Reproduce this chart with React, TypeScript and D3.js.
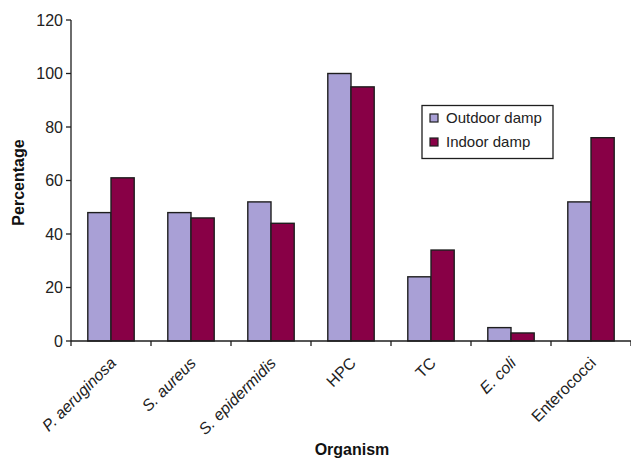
import React from "react";
import * as d3 from "d3";

const W = 631;
const H = 458;

const organisms = ["P. aeruginosa", "S. aureus", "S. epidermidis", "HPC", "TC", "E. coli", "Enterococci"];
const italicNames = ["P. aeruginosa", "S. aureus", "S. epidermidis", "E. coli"];
const outdoorDamp = [48, 48, 52, 100, 24, 5, 52];
const indoorDamp = [61, 46, 44, 95, 34, 3, 76];
const seriesNames = ["Outdoor damp", "Indoor damp"];
const seriesColors = ["#a9a0d6", "#880046"];
const yTicks = [0, 20, 40, 60, 80, 100, 120];

const FONT = "Liberation Sans, Arial, Helvetica, sans-serif";

const App = () => {
  const left = 71;
  const right = 631;
  const top = 20;
  const bottom = 341;

  const x = d3.scaleBand().domain(organisms).range([left, right]).paddingInner(0).paddingOuter(0);
  const gap = x.bandwidth() * 0.21;
  const inner = d3.scaleBand().domain(seriesNames).range([gap, x.bandwidth() - gap]).padding(0);
  const y = d3.scaleLinear().domain([0, 120]).range([bottom, top]);

  const series = [outdoorDamp, indoorDamp];
  const boundaries = organisms.map((o) => x(o) as number).concat([right]);

  return (
    <svg width={W} height={H} style={{ position: "absolute", left: 0, top: 0 }} fontFamily={FONT}>
      <rect x={0} y={0} width={W} height={H} fill="#fff" />
      {/* bars */}
      {organisms.map((o, i) =>
        series.map((s, k) => (
          <rect
            key={o + k}
            x={(x(o) as number) + (inner(seriesNames[k]) as number)}
            y={y(s[i])}
            width={inner.bandwidth()}
            height={y(0) - y(s[i])}
            fill={seriesColors[k]}
            stroke="#1e1e1e"
            strokeWidth={1.4}
          />
        ))
      )}
      {/* y axis */}
      <line x1={left} x2={left} y1={top} y2={bottom} stroke="#1e1e1e" strokeWidth={1.3} />
      {yTicks.map((t) => (
        <g key={t}>
          <line x1={left - 5} x2={left} y1={y(t)} y2={y(t)} stroke="#1e1e1e" strokeWidth={1.3} />
          <text x={left - 8} y={y(t)} dy="0.35em" textAnchor="end" fontSize={16} fill="#222">
            {t}
          </text>
        </g>
      ))}
      {/* x axis */}
      <line x1={left} x2={right} y1={bottom} y2={bottom} stroke="#1e1e1e" strokeWidth={1.3} />
      {boundaries.map((b, i) => (
        <line key={i} x1={b} x2={b} y1={bottom} y2={bottom + 5} stroke="#1e1e1e" strokeWidth={1.3} />
      ))}
      {organisms.map((o) => {
        const cx = (x(o) as number) + x.bandwidth() / 2 + 6;
        const cy = bottom + 23;
        return (
          <text
            key={o}
            transform={`translate(${cx},${cy}) rotate(-45)`}
            textAnchor="end"
            fontSize={16}
            fill="#222"
            fontStyle={italicNames.includes(o) ? "italic" : "normal"}
          >
            {o}
          </text>
        );
      })}
      {/* axis titles */}
      <text
        transform={`translate(24,${(top + bottom) / 2 + 2}) rotate(-90)`}
        textAnchor="middle"
        fontSize={16}
        fontWeight="bold"
        fill="#111"
      >
        Percentage
      </text>
      <text x={352} y={455} textAnchor="middle" fontSize={16} fontWeight="bold" fill="#111">
        Organism
      </text>
      {/* legend */}
      <rect x={422} y={105.5} width={131} height={53} fill="#fff" stroke="#1e1e1e" strokeWidth={1.3} />
      {seriesNames.map((n, k) => (
        <g key={n}>
          <rect x={430} y={114 + k * 24} width={8} height={8} fill={seriesColors[k]} stroke="#1e1e1e" strokeWidth={1.2} />
          <text x={446} y={118 + k * 24} dy="0.35em" fontSize={15} fill="#222">
            {n}
          </text>
        </g>
      ))}
    </svg>
  );
};

export default App;
